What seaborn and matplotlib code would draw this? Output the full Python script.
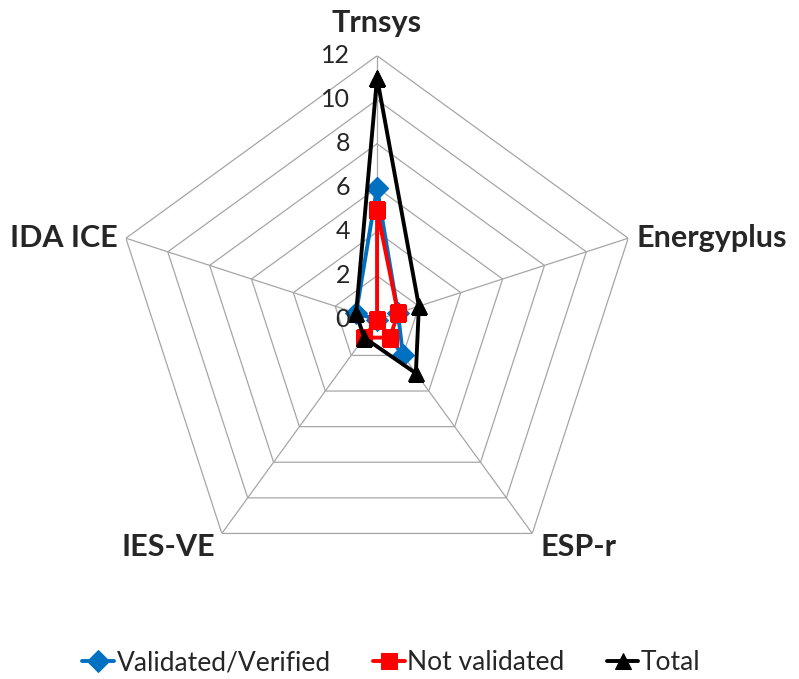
import numpy as np
import matplotlib
matplotlib.use("Agg")
import matplotlib.pyplot as plt
import seaborn as sns

# data
categories = ['Trnsys', 'Energyplus', 'ESP-r', 'IES-VE', 'IDA ICE']
validated = [6, 1, 2, 0, 1]
not_validated = [5, 1, 1, 1, 0]
total = [11, 2, 3, 1, 1]
ticks = [0, 2, 4, 6, 8, 10, 12]

sns.set_style('white')
plt.rcParams['font.family'] = ['Lato', 'DejaVu Sans']

fig = plt.figure(figsize=(7.99, 6.79), dpi=100)
ax = fig.add_axes([0.1414, 0.14, 0.661, 0.778], projection='polar')
ax.set_theta_offset(np.pi / 2)
ax.set_theta_direction(-1)

n = len(categories)
theta = np.linspace(0, 2 * np.pi, n, endpoint=False)
theta_c = np.append(theta, 2 * np.pi)

# pentagon grid
for t in ticks[1:]:
    ax.plot(theta_c, [t] * (n + 1), color='#a6a6a6', lw=0.9, zorder=1)
for th in theta:
    ax.plot([th, th], [0, 12], color='#a6a6a6', lw=0.9, zorder=1)

series = [
    ('Validated/Verified', validated, '#0070c0', 'D', 11),
    ('Not validated', not_validated, '#ff0000', 's', 12),
    ('Total', total, 'black', '^', 12),
]
for name, vals, col, mk, ms in series:
    vals_c = vals + vals[:1]
    sns.lineplot(x=theta_c, y=vals_c, ax=ax, sort=False, estimator=None,
                 color=col, marker=mk, markersize=ms, markeredgecolor=col,
                 lw=2.8, label=name, zorder=3)

ax.set_ylim(0, 12)
ax.grid(False)
ax.spines['polar'].set_visible(False)
ax.set_xticks([])
ax.set_yticks([])

for t in ticks:
    ax.annotate(str(t), xy=(0, t), xytext=(-27, 0), textcoords='offset pixels',
                ha='right', va='center', fontsize=18)

offsets = [(0, 33, 'center'), (8, 0, 'left'), (8, -14, 'left'),
           (-7, -14, 'right'), (-8, 0, 'right')]
for th, lab, (dx, dy, ha) in zip(theta, categories, offsets):
    ax.annotate(lab, xy=(th, 12), xytext=(dx, dy), textcoords='offset pixels',
                ha=ha, va='center', fontsize=22, fontweight='bold')

handles, labels = ax.get_legend_handles_labels()
ax.get_legend().remove()
fig.legend(handles, labels, loc='center', bbox_to_anchor=(0.49, 0.024), ncol=3,
           frameon=False, fontsize=19, handlelength=1.2, handletextpad=0.1,
           columnspacing=1.6)

fig.savefig('out.png', dpi=100)
